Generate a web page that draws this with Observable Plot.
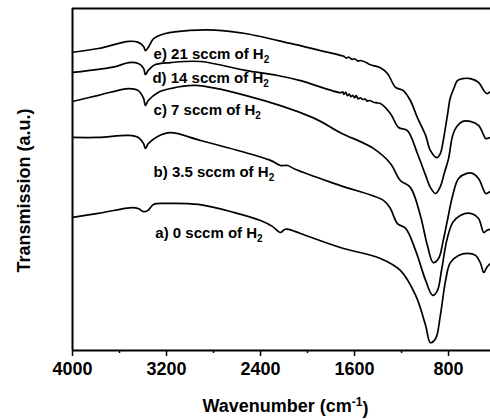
<!DOCTYPE html>
<html><head><meta charset="utf-8">
<script src="https://cdn.jsdelivr.net/npm/d3@7"></script>
<script src="https://cdn.jsdelivr.net/npm/@observablehq/plot@0.6"></script>
<style>body{margin:0;background:#fff;} svg{display:block}</style>
</head><body><div id="chart"></div>
<script>
// Wavenumber (cm-1) and transmission (a.u., stacked) for each spectrum
const wnE = [4000,3780,3520,3440,3395,3380,3355,3310,3210,3000,2785,2530,2145,1890,1720,1690,1670,1650,1620,1600,1570,1550,1500,1470,1440,1380,1320,1250,1185,1125,1065,995,955,900,870,845,810,785,755,725,680,615,545,500,485,470,445];
const tE  = [87.2,88.3,90.4,90.1,88.9,87.7,88.6,91.2,92.7,93.6,93.7,92.7,89.8,87.7,86.3,86.0,85.5,85.8,85.1,85.3,84.6,84.8,84.2,83.6,83.3,82.7,81.0,76.9,76.0,73.1,68.1,62.9,58.5,56.4,57.6,61.4,68.7,73.9,76.6,78.9,79.5,79.5,78.4,76.0,75.4,75.1,75.7];

const wnD = [4000,3780,3635,3520,3440,3395,3380,3355,3295,3165,2910,2530,2255,2060,1720,1700,1690,1675,1660,1645,1630,1615,1600,1585,1570,1550,1530,1510,1490,1470,1440,1410,1380,1295,1225,1150,1065,995,955,910,870,835,800,765,730,680,615,545,500,485,445];
const tD  = [81.3,82.2,83.0,84.2,83.9,82.5,80.7,81.9,83.6,84.2,84.5,81.9,80.4,78.9,75.4,75.6,74.9,75.5,74.5,75.0,74.2,74.6,73.9,74.5,73.6,73.9,73.4,73.5,72.9,73.1,72.6,72.4,72.2,69.3,65.2,64.3,57.6,51.2,47.7,45.9,47.9,52.0,56.1,62.9,65.5,67.0,67.0,65.8,62.9,62.0,62.3];

const wnC = [4000,3780,3520,3440,3395,3380,3355,3275,3165,2955,2530,1955,1720,1440,1295,1210,1125,1040,980,930,885,845,810,765,715,645,595,545,500,485,445];
const tC  = [72.8,74.6,76.6,76.0,73.7,71.6,73.1,75.4,76.6,77.5,74.6,68.1,63.7,59.1,54.7,49.7,47.7,39.5,30.7,25.7,26.9,32.2,38.0,45.3,50.3,51.8,51.8,50.3,46.8,45.9,46.5];

const wnB = [4000,3780,3520,3440,3395,3380,3355,3275,3165,2910,2530,2315,2230,2170,2100,1720,1355,1295,1235,1165,1080,995,935,895,860,815,765,700,615,545,500,475,445];
const tB  = [62.3,62.3,62.9,62.3,60.5,59.1,60.5,62.6,63.7,61.4,57.9,55.6,54.1,54.1,52.9,48.2,43.9,41.5,37.1,35.7,29.2,20.5,16.1,17.5,23.4,32.2,37.4,39.5,40.1,38.6,34.5,35.1,35.4];

const wnA = [4000,3780,3490,3440,3395,3360,3310,3210,2930,2630,2400,2300,2230,2195,2160,2060,1720,1380,1210,1080,995,955,910,870,825,785,715,640,570,530,500,475,445];
const tA  = [38.9,40.1,41.8,41.5,40.6,40.9,42.7,43.0,42.7,40.4,38.0,36.3,34.5,35.4,35.4,34.2,30.1,26.9,23.4,16.1,7.3,2.3,3.5,10.2,20.5,25.7,27.8,28.4,27.8,25.7,22.8,24.3,25.4];

const labels  = ["e) 21 sccm of H", "d) 14 sccm of H", "c) 7 sccm of H", "b) 3.5 sccm of H", "a) 0 sccm of H"];
const labelWn = [3310, 3320, 3310, 3310, 3295];
const labelT  = [86.5, 79.5, 70.2, 52.0, 34.2];

const majorTicks = [4000, 3200, 2400, 1600, 800];
const minorTicks = [3600, 2800, 2000, 1200];

const series = [["e", wnE, tE], ["d", wnD, tD], ["c", wnC, tC], ["b", wnB, tB], ["a", wnA, tA]];
const rows = series.flatMap(([name, wn, t]) => wn.map((w, i) => ({series: name, wn: w, t: t[i]})));

const plot = Plot.plot({
  width: 490, height: 420,
  marginLeft: 72, marginRight: 0, marginTop: 8, marginBottom: 70,
  x: {domain: [4000, 443], label: null},
  y: {domain: [0, 100], axis: null, label: null},
  style: {fontFamily: "'Liberation Sans', Arial, sans-serif", fontWeight: "bold", color: "#000", background: "#fff"},
  marks: [
    Plot.lineY(rows, {x: "wn", y: "t", z: "series", stroke: "#000", strokeWidth: 1.7, curve: "catmull-rom"}),
    Plot.ruleX([4000], {stroke: "#000", strokeWidth: 2}),
    Plot.ruleY([0, 100], {stroke: "#000", strokeWidth: 2}),
    Plot.axisX(majorTicks, {tickSize: 6, tickPadding: 6, fontSize: 18, strokeWidth: 1.5, tickFormat: d => String(d), label: null}),
    Plot.axisX(minorTicks, {tickSize: 3, strokeWidth: 1.5, tickFormat: () => "", label: null}),
    Plot.text(labels, {x: (d, i) => labelWn[i], y: (d, i) => labelT[i], text: d => d, textAnchor: "start", fontSize: 15}),
    Plot.text(["Wavenumber (cm"], {frameAnchor: "bottom", dx: 4, dy: 61, fontSize: 18}),
    Plot.text(["Transmission (a.u.)"], {frameAnchor: "left", textAnchor: "middle", rotate: -90, dx: -48, dy: 11, fontSize: 18})
  ]
});

const NS = "http://www.w3.org/2000/svg";
plot.querySelectorAll("text").forEach(t => {
  const s = t.textContent;
  if (labels.includes(s)) {
    const sub = document.createElementNS(NS, "tspan");
    sub.setAttribute("dy", "0.35em");
    sub.setAttribute("font-size", "10");
    sub.textContent = "2";
    t.appendChild(sub);
  } else if (s === "Wavenumber (cm") {
    const sup = document.createElementNS(NS, "tspan");
    sup.setAttribute("dy", "-0.45em");
    sup.setAttribute("font-size", "12");
    sup.textContent = "-1";
    const close = document.createElementNS(NS, "tspan");
    close.setAttribute("dy", "0.45em");
    close.setAttribute("font-size", "18");
    close.textContent = ")";
    t.appendChild(sup);
    t.appendChild(close);
  }
});
document.getElementById("chart").appendChild(plot);
</script>
</body></html>
